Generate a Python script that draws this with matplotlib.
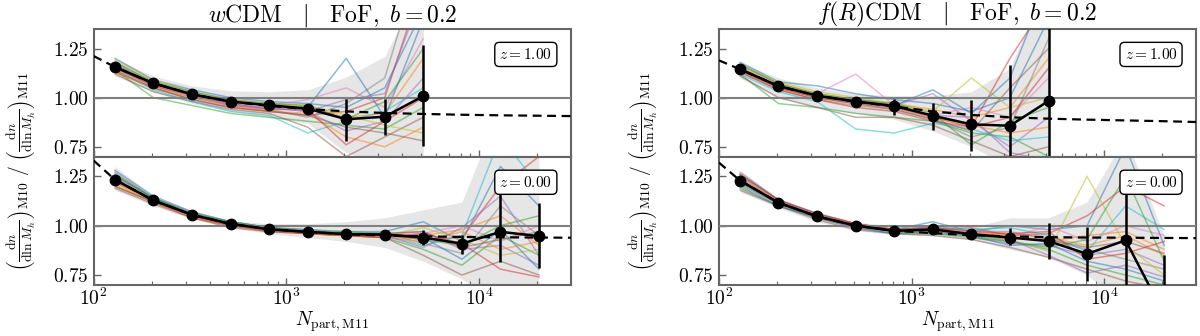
import matplotlib
matplotlib.use('Agg')
import matplotlib.pyplot as plt
from matplotlib.ticker import FixedLocator, FuncFormatter, LogLocator, NullFormatter

plt.rcParams['mathtext.fontset'] = 'cm'
plt.rcParams['font.family'] = 'serif'
plt.rcParams['font.serif'] = ['cmr10', 'DejaVu Serif']
plt.rcParams['axes.unicode_minus'] = False

# bin centres (N_part of M11)
n_part = [129, 204, 324, 513, 813, 1288, 2042, 3236, 5129, 8128, 12882, 20417]
fit_x = [100, 129, 204, 324, 513, 813, 1288, 2042, 3236, 5129, 8128, 12882, 20417, 30000]

# ---- wCDM, z = 1
wcdm_z1_mean = [1.156, 1.073, 1.017, 0.980, 0.961, 0.944, 0.890, 0.903, 1.008]
wcdm_z1_err_lo = [0.010, 0.008, 0.012, 0.012, 0.012, 0.025, 0.110, 0.093, 0.255]
wcdm_z1_err_hi = [0.010, 0.008, 0.012, 0.012, 0.012, 0.025, 0.105, 0.092, 0.262]
wcdm_z1_fit = [1.212, 1.156, 1.073, 1.017, 0.980, 0.958, 0.942, 0.930, 0.922, 0.917, 0.913, 0.910, 0.908, 0.906]
wcdm_z1_band_hi = [1.20, 1.11, 1.06, 1.035, 1.03, 1.04, 1.105, 1.21, 1.60]
wcdm_z1_band_lo = [1.11, 1.03, 0.97, 0.93, 0.90, 0.87, 0.72, 0.66, 0.50]
wcdm_z1_runs = [
    [1.20, 1.09, 1.04, 1.00, 0.98, 0.97, 0.95, 1.05, 1.45],
    [1.17, 1.08, 1.02, 0.99, 0.97, 0.95, 0.90, 0.92, 1.20],
    [1.14, 1.00, 0.96, 0.92, 0.90, 0.88, 0.86, 0.84, 0.95],
    [1.13, 1.05, 0.99, 0.95, 0.93, 0.91, 0.93, 1.00, 1.60],
    [1.16, 1.07, 1.01, 0.97, 0.95, 0.93, 0.83, 0.88, 1.10],
    [1.12, 1.03, 0.98, 0.94, 0.92, 0.85, 0.70, 0.80, 0.90],
    [1.18, 1.08, 1.03, 0.99, 0.96, 0.99, 1.05, 0.95, 1.30],
    [1.15, 1.06, 1.00, 0.96, 0.94, 0.90, 0.97, 1.10, 1.75],
    [1.19, 1.09, 1.03, 0.98, 0.97, 0.96, 0.91, 0.86, 0.82],
    [1.14, 1.04, 0.98, 0.93, 0.91, 0.82, 0.88, 0.93, 1.05],
    [1.17, 1.07, 1.02, 0.98, 0.96, 0.95, 1.20, 0.90, 1.40],
    [1.13, 1.05, 1.00, 0.96, 0.93, 0.92, 0.80, 0.75, 0.85],
    [1.18, 1.08, 1.03, 0.99, 0.97, 0.96, 0.89, 0.98, 1.25],
    [1.15, 1.06, 1.01, 0.97, 0.94, 0.94, 0.76, 0.88, 1.00],
    [1.16, 1.07, 1.01, 0.96, 0.95, 0.93, 0.99, 1.02, 1.55],
    [1.14, 1.05, 0.99, 0.95, 0.93, 0.91, 0.85, 0.82, 0.78],
]

# ---- wCDM, z = 0
wcdm_z0_mean = [1.233, 1.128, 1.055, 1.009, 0.981, 0.969, 0.957, 0.955, 0.940, 0.909, 0.969, 0.947]
wcdm_z0_err_lo = [0.012, 0.008, 0.006, 0.006, 0.006, 0.008, 0.010, 0.012, 0.040, 0.050, 0.155, 0.162]
wcdm_z0_err_hi = [0.012, 0.008, 0.006, 0.006, 0.006, 0.008, 0.010, 0.012, 0.038, 0.043, 0.198, 0.168]
wcdm_z0_fit = [1.33, 1.233, 1.128, 1.055, 1.009, 0.983, 0.968, 0.957, 0.950, 0.946, 0.943, 0.941, 0.940, 0.939]
wcdm_z0_band_hi = [1.30, 1.15, 1.07, 1.025, 1.01, 1.01, 1.02, 1.04, 1.08, 1.12, 1.60, 1.60]
wcdm_z0_band_lo = [1.18, 1.10, 1.035, 0.99, 0.96, 0.94, 0.92, 0.89, 0.82, 0.73, 0.60, 0.60]
wcdm_z0_runs = [
    [1.28, 1.15, 1.07, 1.02, 0.99, 0.98, 0.97, 0.97, 1.02, 0.92, 1.30, 1.10],
    [1.25, 1.14, 1.06, 1.01, 0.99, 0.97, 0.96, 0.96, 0.95, 0.98, 1.05, 0.90],
    [1.20, 1.12, 1.05, 1.00, 0.98, 0.96, 0.95, 0.94, 0.88, 0.80, 0.95, 0.85],
    [1.22, 1.13, 1.05, 1.01, 0.98, 0.97, 0.96, 0.95, 0.93, 0.94, 1.20, 1.35],
    [1.26, 1.14, 1.06, 1.02, 0.99, 0.97, 0.96, 0.96, 0.97, 0.88, 0.90, 0.80],
    [1.19, 1.11, 1.04, 0.99, 0.97, 0.96, 0.95, 0.94, 0.85, 0.75, 0.82, 0.75],
    [1.24, 1.13, 1.06, 1.01, 0.98, 0.97, 0.96, 0.95, 0.96, 1.00, 0.92, 1.00],
    [1.27, 1.14, 1.07, 1.02, 0.99, 0.98, 0.96, 0.96, 0.91, 0.86, 1.10, 0.95],
    [1.21, 1.12, 1.05, 1.00, 0.98, 0.96, 0.95, 0.95, 0.99, 0.93, 0.85, 0.88],
    [1.23, 1.13, 1.05, 1.01, 0.98, 0.97, 0.96, 0.95, 0.90, 0.95, 1.45, 1.20],
    [1.25, 1.14, 1.06, 1.01, 0.99, 0.97, 0.96, 0.96, 0.94, 0.83, 0.98, 0.78],
    [1.22, 1.12, 1.05, 1.00, 0.98, 0.96, 0.95, 0.94, 0.92, 0.97, 0.88, 0.92],
    [1.26, 1.14, 1.06, 1.02, 0.99, 0.97, 0.97, 0.96, 0.93, 0.90, 1.00, 1.05],
    [1.20, 1.12, 1.04, 1.00, 0.97, 0.96, 0.95, 0.94, 0.96, 0.91, 0.78, 0.74],
    [1.24, 1.13, 1.06, 1.01, 0.98, 0.97, 0.96, 0.95, 0.89, 0.99, 1.15, 0.85],
    [1.23, 1.13, 1.05, 1.01, 0.98, 0.97, 0.96, 0.96, 0.97, 0.89, 0.93, 0.97],
]

# ---- f(R)CDM, z = 1
fr_z1_mean = [1.144, 1.059, 1.010, 0.980, 0.958, 0.908, 0.864, 0.857, 0.983]
fr_z1_err_lo = [0.010, 0.025, 0.020, 0.020, 0.045, 0.072, 0.134, 0.200, 0.500]
fr_z1_err_hi = [0.010, 0.025, 0.020, 0.020, 0.035, 0.067, 0.126, 0.309, 0.500]
fr_z1_fit = [1.19, 1.144, 1.059, 1.010, 0.980, 0.955, 0.930, 0.912, 0.900, 0.893, 0.888, 0.884, 0.880, 0.876]
fr_z1_band_hi = [1.18, 1.10, 1.05, 1.02, 1.01, 1.01, 1.03, 1.15, 1.60]
fr_z1_band_lo = [1.10, 1.00, 0.95, 0.92, 0.89, 0.83, 0.75, 0.65, 0.50]
fr_z1_runs = [
    [1.18, 1.08, 1.06, 1.02, 0.99, 0.97, 0.93, 1.00, 1.40],
    [1.16, 1.07, 1.02, 0.99, 0.97, 0.94, 0.90, 0.95, 1.20],
    [1.12, 0.97, 0.95, 0.92, 0.90, 0.88, 0.82, 0.80, 0.70],
    [1.14, 1.05, 1.00, 0.97, 0.95, 0.90, 0.85, 1.20, 1.50],
    [1.15, 1.06, 1.01, 0.98, 0.96, 1.02, 0.88, 0.75, 0.90],
    [1.11, 1.00, 0.95, 0.90, 0.90, 0.86, 0.78, 0.70, 0.75],
    [1.17, 1.07, 1.02, 1.12, 0.96, 0.91, 0.95, 0.90, 1.10],
    [1.13, 1.04, 0.99, 0.96, 0.94, 0.89, 0.80, 0.85, 1.30],
    [1.16, 1.08, 1.03, 1.00, 0.97, 0.93, 1.10, 0.95, 1.00],
    [1.12, 1.03, 0.98, 0.84, 0.82, 0.87, 0.84, 0.78, 0.80],
    [1.15, 1.06, 1.01, 0.99, 0.96, 1.04, 0.92, 1.10, 1.60],
    [1.14, 1.05, 1.00, 0.97, 0.95, 0.90, 0.86, 0.82, 0.85],
    [1.17, 1.07, 1.02, 0.99, 0.97, 0.92, 0.76, 0.88, 0.95],
    [1.13, 1.04, 0.99, 0.95, 0.93, 0.88, 0.85, 0.90, 1.15],
    [1.15, 1.06, 1.01, 0.98, 0.95, 0.91, 0.90, 0.72, 0.68],
    [1.14, 1.05, 1.00, 0.97, 0.94, 0.89, 0.83, 1.05, 1.25],
]

# ---- f(R)CDM, z = 0
fr_z0_mean = [1.228, 1.116, 1.047, 1.000, 0.974, 0.981, 0.957, 0.940, 0.922, 0.857, 0.926, 0.550]
fr_z0_err_lo = [0.010, 0.010, 0.010, 0.010, 0.012, 0.015, 0.018, 0.040, 0.091, 0.137, 0.300, 0.150]
fr_z0_err_hi = [0.010, 0.010, 0.010, 0.010, 0.012, 0.015, 0.018, 0.046, 0.090, 0.138, 0.249, 0.300]
fr_z0_fit = [1.32, 1.228, 1.116, 1.047, 1.000, 0.975, 0.962, 0.952, 0.946, 0.942, 0.940, 0.939, 0.938, 0.937]
fr_z0_band_hi = [1.28, 1.14, 1.07, 1.02, 0.995, 1.00, 0.99, 1.04, 1.04, 1.12, 1.45, 0.95]
fr_z0_band_lo = [1.17, 1.09, 1.02, 0.975, 0.955, 0.95, 0.93, 0.88, 0.84, 0.75, 0.60, 0.60]
fr_z0_runs = [
    [1.26, 1.13, 1.06, 1.01, 0.98, 1.02, 0.97, 1.00, 0.98, 1.00, 1.40, 0.90],
    [1.24, 1.12, 1.05, 1.00, 0.98, 0.99, 0.96, 0.96, 0.94, 0.90, 0.95, 0.85],
    [1.19, 1.10, 1.04, 0.99, 0.96, 0.96, 0.95, 0.92, 0.88, 0.80, 0.75, 0.70],
    [1.22, 1.12, 1.05, 1.00, 0.97, 0.98, 0.99, 0.95, 0.96, 1.05, 1.20, 1.10],
    [1.25, 1.13, 1.05, 1.01, 0.98, 0.99, 0.94, 0.91, 0.90, 0.85, 0.88, 0.80],
    [1.18, 1.10, 1.03, 0.98, 0.96, 0.95, 0.93, 0.89, 0.84, 0.78, 0.72, 0.68],
    [1.23, 1.12, 1.05, 1.00, 0.97, 0.98, 0.96, 0.94, 1.00, 0.92, 1.00, 0.95],
    [1.27, 1.13, 1.06, 1.01, 0.98, 1.00, 0.97, 0.97, 0.93, 0.88, 0.83, 0.78],
    [1.21, 1.11, 1.04, 1.00, 0.97, 0.97, 0.95, 0.93, 0.87, 1.25, 0.90, 0.75],
    [1.24, 1.12, 1.05, 1.00, 0.98, 0.99, 0.98, 0.99, 0.95, 0.87, 1.10, 0.98],
    [1.20, 1.10, 1.04, 0.99, 0.96, 0.97, 0.95, 0.90, 0.91, 0.82, 0.78, 0.72],
    [1.25, 1.12, 1.05, 1.01, 0.98, 0.98, 0.96, 0.95, 0.92, 0.95, 0.97, 0.88],
    [1.22, 1.11, 1.04, 1.00, 0.97, 0.96, 0.94, 0.92, 0.89, 0.93, 1.25, 0.82],
    [1.26, 1.13, 1.06, 1.01, 0.98, 0.99, 0.97, 0.96, 0.97, 0.83, 0.86, 0.92],
    [1.21, 1.11, 1.04, 0.99, 0.97, 0.97, 0.95, 0.93, 0.85, 0.76, 0.80, 0.74],
    [1.23, 1.12, 1.05, 1.00, 0.97, 0.98, 0.96, 0.94, 0.93, 0.89, 0.92, 0.86],
]

titles = [r'$w\mathrm{CDM}\quad|\quad\mathrm{FoF},\ b=0.2$',
          r'$f(R)\mathrm{CDM}\quad|\quad\mathrm{FoF},\ b=0.2$']
redshift_labels = [r'$z=1.00$', r'$z=0.00$']
ylabel = (r'$\left(\frac{\mathrm{d}n}{\mathrm{d}\ln M_h}\right)_{\mathrm{M10}}\ /\ '
          r'\left(\frac{\mathrm{d}n}{\mathrm{d}\ln M_h}\right)_{\mathrm{M11}}$')

panels = [
    [(wcdm_z1_mean, wcdm_z1_err_lo, wcdm_z1_err_hi, wcdm_z1_fit, wcdm_z1_band_lo, wcdm_z1_band_hi, wcdm_z1_runs),
     (wcdm_z0_mean, wcdm_z0_err_lo, wcdm_z0_err_hi, wcdm_z0_fit, wcdm_z0_band_lo, wcdm_z0_band_hi, wcdm_z0_runs)],
    [(fr_z1_mean, fr_z1_err_lo, fr_z1_err_hi, fr_z1_fit, fr_z1_band_lo, fr_z1_band_hi, fr_z1_runs),
     (fr_z0_mean, fr_z0_err_lo, fr_z0_err_hi, fr_z0_fit, fr_z0_band_lo, fr_z0_band_hi, fr_z0_runs)],
]

COLORS = plt.rcParams['axes.prop_cycle'].by_key()['color']
SPINE = '#666666'

fig = plt.figure(figsize=(12, 3.36), dpi=100)
lefts = [0.078, 0.599]
width = 0.398
bottoms = [0.534, 0.152]
heights = [0.380, 0.382]
ylabel_x = [0.018, 0.537]

for col in range(2):
    for row in range(2):
        ax = fig.add_axes([lefts[col], bottoms[row], width, heights[row]])
        mean, elo, ehi, fit, blo, bhi, runs = panels[col][row]
        nb = len(mean)
        x = n_part[:nb]

        ax.fill_between(x, blo, bhi, color='0.9', lw=0, zorder=1)
        for i, run in enumerate(runs):
            ax.plot(x, run, color=COLORS[i % 10], lw=1.1, alpha=0.5, zorder=2)
        ax.axhline(1.0, color='#808080', lw=1.5, zorder=3)
        ax.plot(fit_x, fit, color='k', ls='--', lw=1.6, dashes=(4, 2.5), zorder=4)
        ax.errorbar(x, mean, yerr=[elo, ehi], color='k', lw=1.8, elinewidth=1.8,
                    marker='o', ms=7.5, capsize=0, zorder=5)

        ax.text(0.905, 0.80, redshift_labels[row], transform=ax.transAxes, ha='center',
                va='center', fontsize=11, zorder=6,
                bbox=dict(boxstyle='round,pad=0.3', fc='white', ec='k', lw=1.0))

        ax.set_xscale('log')
        ax.set_xlim(100, 3e4)
        ax.set_ylim(0.7, 1.35)
        ax.yaxis.set_major_locator(FixedLocator([0.75, 1.0, 1.25]))
        ax.yaxis.set_major_formatter(FuncFormatter(lambda v, p: r'$%.2f$' % v))
        ax.xaxis.set_major_locator(LogLocator(base=10, numticks=10))
        ax.xaxis.set_minor_locator(LogLocator(base=10, subs=range(2, 10), numticks=20))
        ax.xaxis.set_minor_formatter(NullFormatter())
        ax.tick_params(which='both', direction='in', top=False, right=False,
                       labelsize=14, color=SPINE)
        ax.tick_params(which='major', length=5, width=1.0)
        ax.tick_params(which='minor', length=3, width=0.8)
        ax.tick_params(axis='x', pad=2)
        for s in ax.spines.values():
            s.set_color(SPINE)
            s.set_linewidth(1.5)
        if row == 0:
            ax.set_xticklabels([])
            ax.set_title(titles[col], fontsize=17, pad=4)
        else:
            ax.set_xlabel(r'$N_{\mathrm{part,M11}}$', fontsize=14, labelpad=0)

    fig.text(ylabel_x[col], 0.49, ylabel, rotation=90, ha='center', va='center', fontsize=14)

fig.savefig('out.png', dpi=100)
